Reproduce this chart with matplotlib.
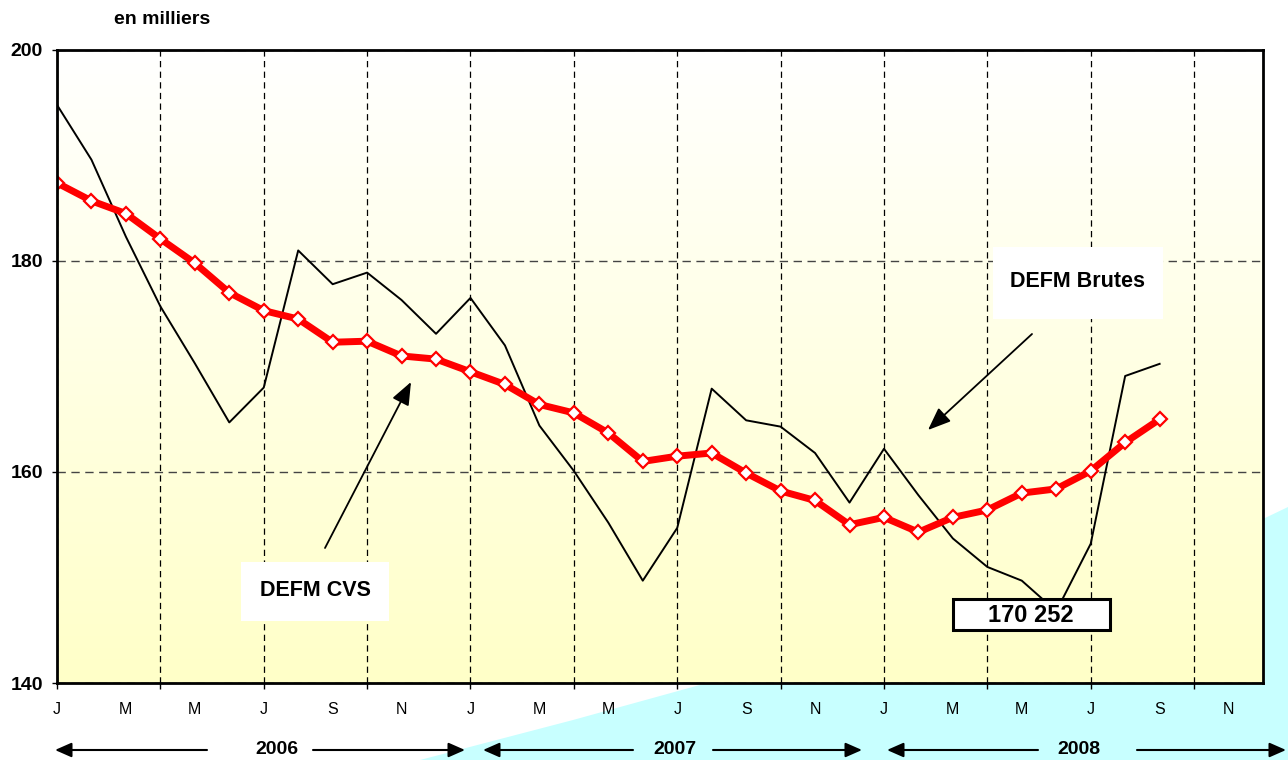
import numpy as np
import matplotlib
matplotlib.use('Agg')
import matplotlib.pyplot as plt
from matplotlib.colors import LinearSegmentedColormap
from matplotlib.patches import Polygon, Rectangle, FancyArrowPatch

plt.rcParams['font.family'] = ['Liberation Sans', 'DejaVu Sans']

# DEFM, en milliers, janvier 2006 -> septembre 2008
defm_cvs = [187.4, 185.7, 184.5, 182.1, 179.8, 177.0, 175.3, 174.5, 172.3, 172.4,
            171.0, 170.7, 169.5, 168.3, 166.4, 165.6, 163.7, 161.0, 161.5, 161.8,
            159.9, 158.2, 157.3, 155.0, 155.7, 154.3, 155.7, 156.4, 158.0, 158.4,
            160.1, 162.8, 165.0]
defm_brutes = [194.8, 189.6, 182.3, 175.7, 170.3, 164.7, 168.0, 181.0, 177.8, 178.9,
               176.3, 173.1, 176.5, 172.0, 164.4, 160.1, 155.2, 149.7, 154.7, 167.9,
               164.9, 164.3, 161.8, 157.1, 162.2, 157.8, 153.7, 151.0, 149.7, 146.8,
               153.2, 169.1, 170.252]
month_labels = ['J', 'M', 'M', 'J', 'S', 'N'] * 3
years = ['2006', '2007', '2008']
y_ticks = [140, 160, 180, 200]

W, H = 1288, 760


def fx(x):
    return x / W


def fy(y):
    return 1 - y / H


fig = plt.figure(figsize=(W / 100, H / 100), dpi=100)
fig.patch.set_facecolor('white')

# cyan decoration behind the plot
cyan = Polygon([(fx(x), fy(y)) for x, y in
                [(420, 760), (573, 720), (707, 683), (1000, 598), (1265, 518),
                 (1288, 507), (1288, 760)]],
               closed=True, transform=fig.transFigure, facecolor='#C8FFFF',
               edgecolor='none', zorder=-1)
fig.add_artist(cyan)

ax = fig.add_axes([57 / W, 1 - 683 / H, 1206 / W, 633 / H])
cmap = LinearSegmentedColormap.from_list('bg', ['#FFFFFF', '#FFFFC8'])
ax.imshow(np.linspace(0, 1, 256).reshape(-1, 1), cmap=cmap, extent=(0, 1, 0, 1),
          transform=ax.transAxes, aspect='auto', zorder=0)

months = np.arange(len(defm_cvs))
ax.plot(months, defm_brutes, color='black', lw=1.4, zorder=3)
ax.plot(months, defm_cvs, color='red', lw=5, marker='D', ms=7,
        mfc='white', mec='red', mew=1.6, zorder=4)

ax.set_xlim(0, 35)
ax.set_ylim(140, 200)

ax.set_yticks(y_ticks)
ax.set_yticklabels([str(v) for v in y_ticks], fontweight='bold')
ax.tick_params(axis='y', length=3.6, width=1, pad=6.5, labelsize=14)

ax.set_xticks(range(0, 34, 3))
ax.set_xticklabels([''] * len(range(0, 34, 3)))
ax.xaxis.remove_overlapping_locs = False
ax.set_xticks(range(0, 36, 2), minor=True)
ax.set_xticklabels(month_labels, minor=True)
ax.tick_params(axis='x', which='major', length=4.3, width=1, direction='out')
ax.tick_params(axis='x', which='minor', length=0, pad=14, labelsize=11.5)

ax.xaxis.grid(True, color='black', ls=(0, (5, 3.5)), lw=0.9)
ax.yaxis.grid(True, color='#444444', ls=(0, (6, 4)), lw=1)
ax.set_axisbelow(False)
for sp in ax.spines.values():
    sp.set_linewidth(2)
    sp.set_zorder(5)

fig.text(fx(162), fy(20), 'en milliers', ha='center', va='center',
         fontsize=14, fontweight='bold')


def box(x0, y0, x1, y1, edge='none', lw=0):
    fig.add_artist(Rectangle((fx(x0), fy(y1)), (x1 - x0) / W, (y1 - y0) / H,
                             transform=fig.transFigure, facecolor='white',
                             edgecolor=edge, lw=lw, zorder=5))


def arrow(x0, y0, x1, y1, hl, hw, lw=1.3):
    fig.add_artist(FancyArrowPatch(
        (fx(x0), fy(y0)), (fx(x1), fy(y1)), transform=fig.transFigure,
        arrowstyle=f'-|>,head_length={hl},head_width={hw}', mutation_scale=20,
        shrinkA=0, shrinkB=0, lw=lw, color='black', zorder=6))


box(993, 247, 1163, 319)
fig.text(fx(1078), fy(282), 'DEFM Brutes', ha='center', va='center',
         fontsize=15.5, fontweight='bold', zorder=7)
arrow(1032, 334, 928, 430, 0.7, 0.28)

box(241, 562, 389, 621)
fig.text(fx(315), fy(591), 'DEFM CVS', ha='center', va='center',
         fontsize=15.5, fontweight='bold', zorder=7)
arrow(325, 548, 411, 382, 0.7, 0.28)

last_label = f'{round(defm_brutes[-1] * 1000):,}'.replace(',', ' ')
box(953, 599, 1110, 630, edge='black', lw=2.2)
fig.text(fx(1031), fy(615), last_label, ha='center', va='center',
         fontsize=17, fontweight='bold', zorder=7)

# years below the axis
year_spans = [(277, 207, 55, 313, 465), (675, 633, 483, 713, 862),
              (1079, 1038, 887, 1137, 1286)]
for year, (xc, l0, l1, r0, r1) in zip(years, year_spans):
    fig.text(fx(xc), fy(750), year, ha='center', va='center',
             fontsize=14, fontweight='bold')
    arrow(l0, 750, l1, 750, 0.5, 0.22, lw=1.5)
    arrow(r0, 750, r1, 750, 0.5, 0.22, lw=1.5)

fig.savefig('out.png', dpi=100)
